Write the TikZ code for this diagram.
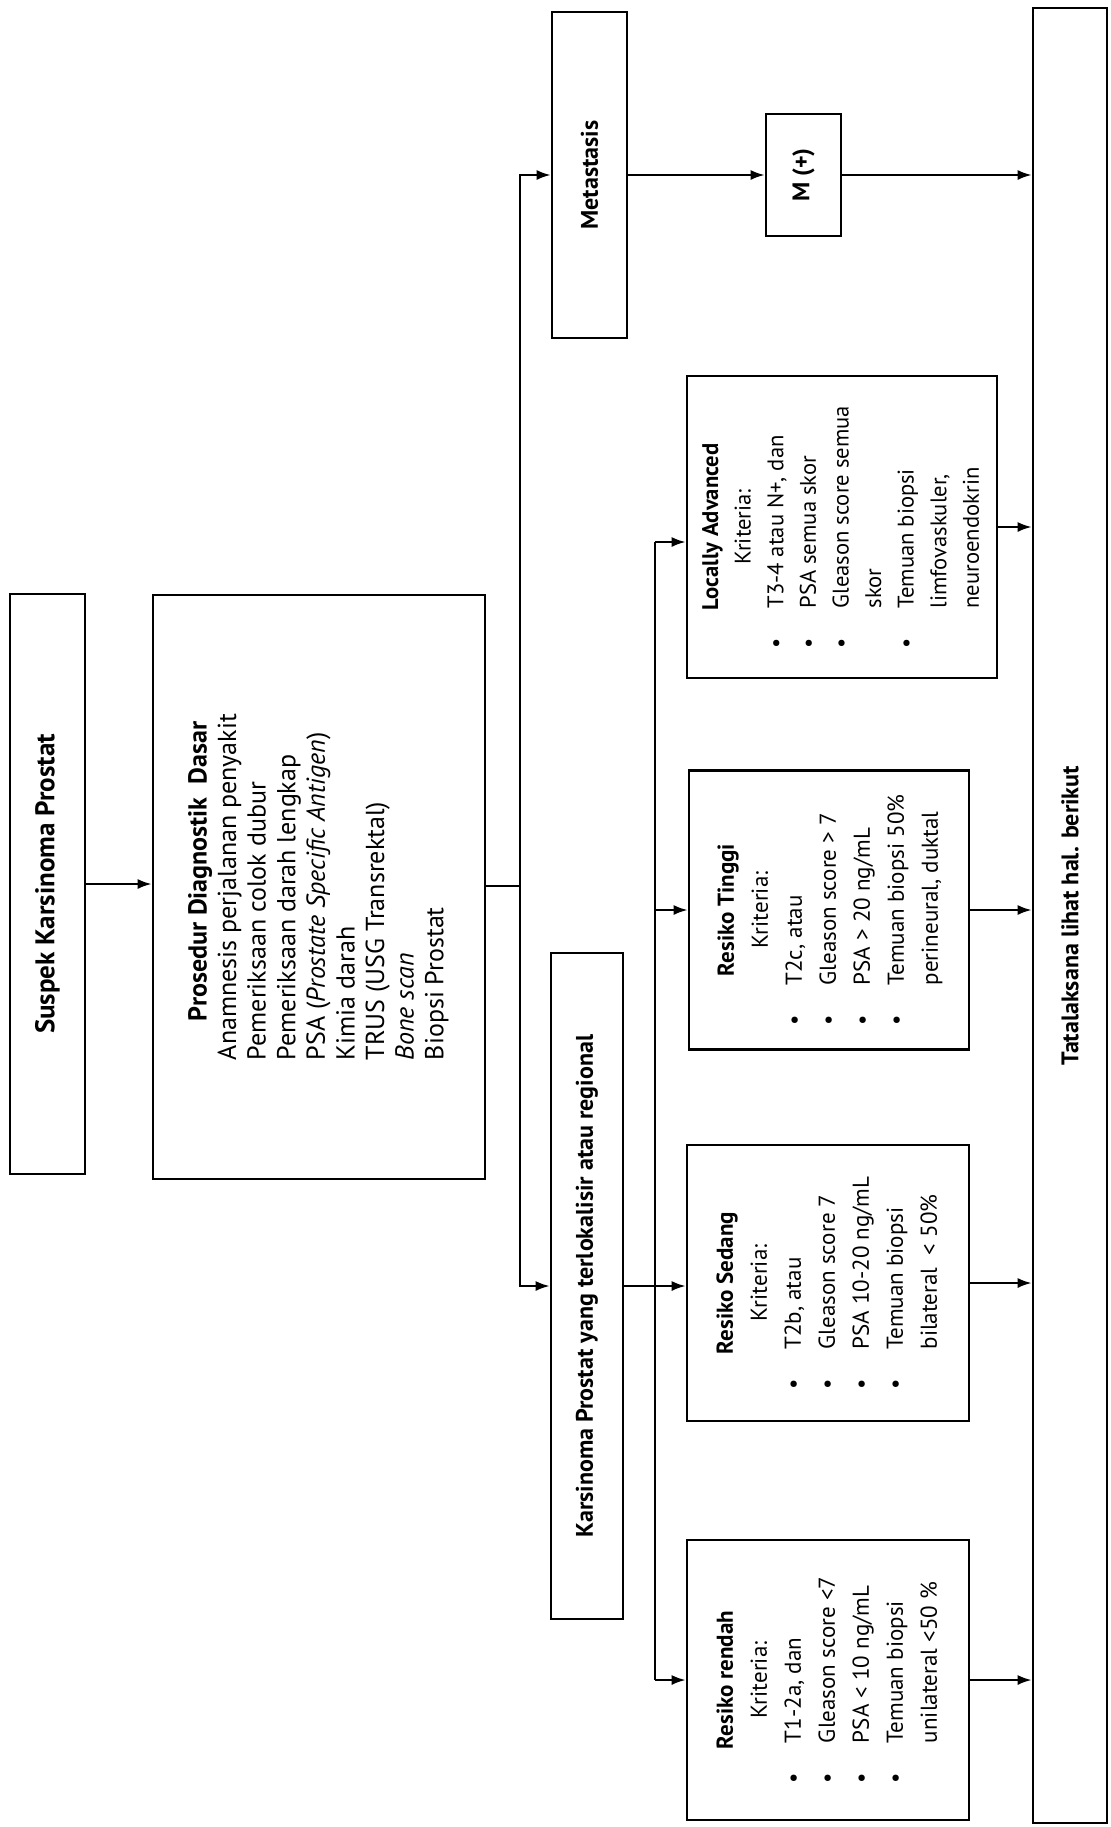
\documentclass[tikz,border=0pt]{standalone}
\usepackage{fontspec}
\setmainfont{PT Sans}
\usetikzlibrary{arrows.meta,calc}
\tikzset{
  box/.style 2 args={draw, line width=1.3pt, inner sep=0pt, align=center,
    minimum width=#1*0.5pt, minimum height=#2*0.5pt},
  conn/.style={line width=1.1pt},
  arr/.style={line width=1.1pt, -{Latex[length=7pt,width=5pt]}},
}
\newcommand{\rot}[1]{\rotatebox{90}{#1}}
\newcommand{\bul}{\textbullet}
\begin{document}
\begin{tikzpicture}[x=0.5pt,y=-0.5pt]
\useasboundingbox (0,0) rectangle (1111,1827);
% boxes
\node[box={75}{580}] (suspek) at (47.5,884)
  {\rot{\fontsize{13.5}{14.5}\selectfont\bfseries Suspek Karsinoma Prostat}};
\node[box={332}{584}] (prosedur) at (319,887)
  {\rot{\fontsize{13}{14.8}\selectfont\begin{tabular}{@{}l@{}}
  \hspace*{1.5em}\bfseries Prosedur Diagnostik\ \ Dasar\\
  Anamnesis perjalanan penyakit\\
  Pemeriksaan colok dubur\\
  Pemeriksaan darah lengkap\\
  PSA (\textit{Prostate Specific Antigen})\\
  Kimia darah\\
  TRUS (USG Transrektal)\\
  \textit{Bone scan}\\
  Biopsi Prostat
  \end{tabular}}};
\node[box={75}{326}] (metastasis) at (589.5,175)
  {\rot{\fontsize{12}{14.5}\selectfont\bfseries Metastasis}};
\node[box={75}{122}] (mplus) at (803.5,175)
  {\rot{\fontsize{12}{14.5}\selectfont\bfseries M (+)}};
\node[box={74}{1815}] (tata) at (1070,915.5)
  {\rot{\fontsize{12}{14.5}\selectfont\bfseries Tatalaksana lihat hal. berikut}};
\node[box={72}{666}] (karsinoma) at (587,1286)
  {\rot{\fontsize{12}{14.5}\selectfont\bfseries Karsinoma Prostat yang terlokalisir atau regional}};
\node[box={310}{302}] (locally) at (842,527)
  {\rot{\fontsize{11.3}{16.3}\selectfont\begin{tabular}{@{}l@{\hspace{1.3em}}l@{}}
  \multicolumn{2}{c}{\bfseries Locally Advanced}\\
  \multicolumn{2}{c}{Kriteria:}\\
  \bul & T3-4 atau N+, dan\\
  \bul & PSA semua skor\\
  \bul & Gleason score semua\\
       & skor\\
  \bul & Temuan biopsi\\
       & limfovaskuler,\\
       & neuroendokrin
  \end{tabular}}};
\node[box={280}{279}] (tinggi) at (829,910)
  {\rot{\fontsize{11.5}{17}\selectfont\begin{tabular}{@{}l@{\hspace{1.3em}}l@{}}
  \multicolumn{2}{c}{\bfseries Resiko Tinggi}\\
  \multicolumn{2}{c}{Kriteria:}\\
  \bul & T2c, atau\\
  \bul & Gleason score > 7\\
  \bul & PSA > 20 ng/mL\\
  \bul & Temuan biopsi 50\%\\
       & perineural, duktal
  \end{tabular}}};
\node[box={282}{276}] (sedang) at (828,1283)
  {\rot{\fontsize{11.5}{17}\selectfont\begin{tabular}{@{}l@{\hspace{1.3em}}l@{}}
  \multicolumn{2}{c}{\bfseries Resiko Sedang}\\
  \multicolumn{2}{c}{Kriteria:}\\
  \bul & T2b, atau\\
  \bul & Gleason score 7\\
  \bul & PSA 10-20 ng/mL\\
  \bul & Temuan biopsi\\
       & bilateral\ \ < 50\%
  \end{tabular}}};
\node[box={282}{280}] (rendah) at (828,1680)
  {\rot{\fontsize{11.5}{17}\selectfont\begin{tabular}{@{}l@{\hspace{1.3em}}l@{}}
  \multicolumn{2}{c}{\bfseries Resiko rendah}\\
  \multicolumn{2}{c}{Kriteria:}\\
  \bul & T1-2a, dan\\
  \bul & Gleason score <7\\
  \bul & PSA < 10 ng/mL\\
  \bul & Temuan biopsi\\
       & unilateral <50 \%
  \end{tabular}}};
% junctions
\coordinate (j1) at (520,886);
\coordinate (j2) at (655,1286);
\coordinate (locin) at (655,542);
% connectors
\draw[arr] (suspek.east) -- (prosedur.west |- suspek.east);
\draw[conn] (prosedur.east |- j1) -- (j1);
\draw[arr] (j1) |- (metastasis.west);
\draw[arr] (j1) |- (karsinoma.west);
\draw[arr] (metastasis.east) -- (mplus.west);
\draw[arr] (mplus.east) -- (tata.west |- mplus.east);
\draw[arr] (karsinoma.east) -- (sedang.west |- karsinoma.east);
\draw[conn] (locin) -- (j2 |- rendah.west);
\draw[arr] (locin) -- (locally.west |- locin);
\draw[arr] (j2 |- tinggi.west) -- (tinggi.west);
\draw[arr] (j2 |- rendah.west) -- (rendah.west);
\draw[arr] (locally.east) -- (tata.west |- locally.east);
\draw[arr] (tinggi.east) -- (tata.west |- tinggi.east);
\draw[arr] (sedang.east) -- (tata.west |- sedang.east);
\draw[arr] (rendah.east) -- (tata.west |- rendah.east);
\end{tikzpicture}
\end{document}
